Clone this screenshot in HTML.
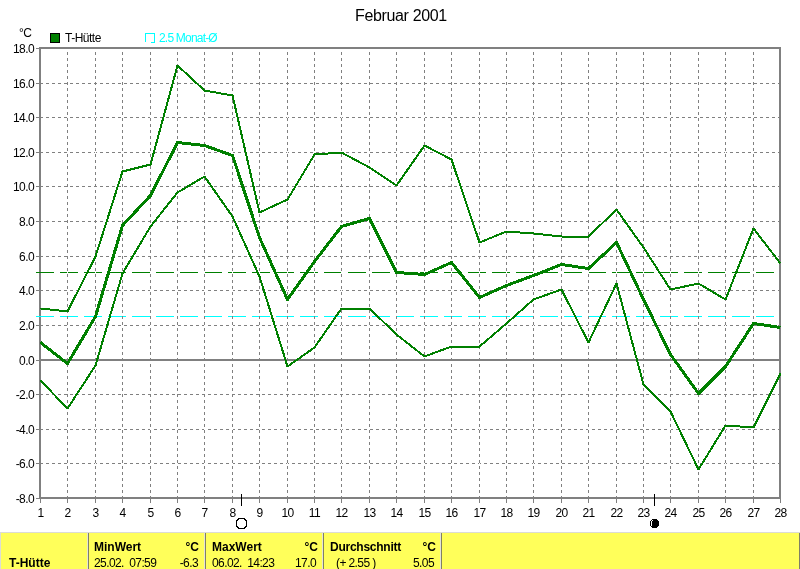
<!DOCTYPE html>
<html><head><meta charset="utf-8"><style>
html,body{margin:0;padding:0;background:#fff;width:800px;height:569px;overflow:hidden;position:relative;font-family:"Liberation Sans",sans-serif;color:#000}
.t{position:absolute;white-space:nowrap;will-change:transform}
.yl{will-change:transform;position:absolute;left:0;width:34px;letter-spacing:-0.6px;text-align:right;font-size:12px;line-height:16px;}
.xl{will-change:transform;position:absolute;top:505px;width:31px;letter-spacing:-0.6px;text-align:center;font-size:12px;line-height:16px;}
.tbl{position:absolute;left:0;top:532px;width:800px;height:37px;background:#FFFF5A;}
.b{font-weight:bold}
.t{font-size:12px;line-height:14px}
.r{width:100px;text-align:right}
.n{letter-spacing:-0.6px}
.dl{position:absolute;top:533px;width:1px;height:36px;background:#E4E4D8}
.dd{position:absolute;top:533px;width:1px;height:36px;background:#808064}
</style></head><body>
<svg width="800" height="569" viewBox="0 0 800 569" style="position:absolute;left:0;top:0" shape-rendering="crispEdges">
<defs><clipPath id="pc"><rect x="40" y="47" width="741" height="452"/></clipPath></defs>
<path d="M39 47h742v2H39zM39 497h742v2H39zM39 47h2v452h-2zM779 47h2v452h-2z" fill="#808080"/>
<path d="M36 48.5h4M36 83.5h4M36 117.5h4M36 152.5h4M36 186.5h4M36 221.5h4M36 256.5h4M36 290.5h4M36 325.5h4M36 360.5h4M36 394.5h4M36 429.5h4M36 463.5h4M36 498.5h4M40.5 499v4M67.5 499v4M95.5 499v4M122.5 499v4M150.5 499v4M177.5 499v4M204.5 499v4M232.5 499v4M259.5 499v4M287.5 499v4M314.5 499v4M341.5 499v4M369.5 499v4M396.5 499v4M424.5 499v4M451.5 499v4M479.5 499v4M506.5 499v4M533.5 499v4M561.5 499v4M588.5 499v4M616.5 499v4M643.5 499v4M670.5 499v4M698.5 499v4M725.5 499v4M753.5 499v4M780.5 499v4" stroke="#808080"/>
<path d="M40 83.5H779M40 117.5H779M40 152.5H779M40 186.5H779M40 221.5H779M40 256.5H779M40 290.5H779M40 325.5H779M40 394.5H779M40 429.5H779M40 463.5H779" stroke="#808080" stroke-dasharray="3 3"/>
<path d="M36 272.5H779" stroke="#008000" stroke-dasharray="18 6"/>
<path d="M36 316.5H779" stroke="#00FFFF" stroke-dasharray="18 6"/>
<path d="M67.5 49V497M95.5 49V497M122.5 49V497M150.5 49V497M177.5 49V497M204.5 49V497M232.5 49V497M259.5 49V497M287.5 49V497M314.5 49V497M341.5 49V497M369.5 49V497M396.5 49V497M424.5 49V497M451.5 49V497M479.5 49V497M506.5 49V497M533.5 49V497M561.5 49V497M588.5 49V497M616.5 49V497M643.5 49V497M670.5 49V497M698.5 49V497M725.5 49V497M753.5 49V497" stroke="#fff"/>
<path d="M67.5 52V497M95.5 52V497M122.5 52V497M150.5 52V497M177.5 52V497M204.5 52V497M232.5 52V497M259.5 52V497M287.5 52V497M314.5 52V497M341.5 52V497M369.5 52V497M396.5 52V497M424.5 52V497M451.5 52V497M479.5 52V497M506.5 52V497M533.5 52V497M561.5 52V497M588.5 52V497M616.5 52V497M643.5 52V497M670.5 52V497M698.5 52V497M725.5 52V497M753.5 52V497" stroke="#808080" stroke-dasharray="3 3"/>
<rect x="41" y="359" width="738" height="2" fill="#808080"/>
<g clip-path="url(#pc)"><polyline points="40.5,308.5 67.5,311.5 95.5,256.5 122.5,171.5 150.5,164.5 177.5,65.5 204.5,90.5 232.5,95.5 259.5,212.5 287.5,199.5 314.5,154.5 341.5,152.5 369.5,167.5 396.5,185.5 424.5,145.5 451.5,159.5 479.5,242.5 506.5,231.5 533.5,233.5 561.5,236.5 588.5,236.5 616.5,209.5 643.5,247.5 670.5,289.5 698.5,283.5 725.5,299.5 753.5,228.5 780.5,263.5" fill="none" stroke="#008000" stroke-width="2" stroke-linejoin="bevel" stroke-linecap="butt"/><polyline points="40.5,380.5 67.5,408.5 95.5,365.5 122.5,273.5 150.5,226.5 177.5,192.5 204.5,176.5 232.5,216.5 259.5,276.5 287.5,366.5 314.5,347.5 341.5,308.5 369.5,308.5 396.5,334.5 424.5,356.5 451.5,346.5 479.5,346.5 506.5,323.5 533.5,299.5 561.5,289.5 588.5,342.5 616.5,283.5 643.5,384.5 670.5,411.5 698.5,469.5 725.5,425.5 753.5,427.5 780.5,373.5" fill="none" stroke="#008000" stroke-width="2" stroke-linejoin="bevel" stroke-linecap="butt"/><polyline points="40.5,342.5 67.5,363.5 95.5,316.5 122.5,225.5 150.5,195.5 177.5,142.5 204.5,145.5 232.5,155.5 259.5,237.5 287.5,299.5 314.5,261.5 341.5,226.5 369.5,218.5 396.5,272.5 424.5,274.5 451.5,262.5 479.5,297.5 506.5,285.5 533.5,275.5 561.5,264.5 588.5,268.5 616.5,242.5 643.5,299.5 670.5,354.5 698.5,393.5 725.5,366.5 753.5,323.5 780.5,327.5" fill="none" stroke="#008000" stroke-width="3" stroke-linejoin="round" stroke-linecap="butt"/></g>
<path d="M241.5 494v12M654.5 494v12" stroke="#000"/>
<path d="M238 518h7v1h-7zM237 519h2v1h-2zM244 519h2v1h-2zM236 520h2v1h-2zM245 520h2v1h-2zM236 521h1v1h-1zM236 522h1v1h-1zM236 523h1v1h-1zM236 524h1v1h-1zM236 525h1v1h-1zM246 521h1v1h-1zM246 522h1v1h-1zM246 523h1v1h-1zM246 524h1v1h-1zM246 525h1v1h-1zM236 526h2v1h-2zM245 526h2v1h-2zM237 527h2v1h-2zM244 527h2v1h-2zM238 528h7v1h-7z" fill="#000"/>
<path d="M652 519h5v1h-5zM651 520h7v1h-7zM650 521h9v1h-9zM650 522h9v1h-9zM650 523h9v1h-9zM650 524h9v1h-9zM650 525h9v1h-9zM651 526h7v1h-7zM652 527h5v1h-5z" fill="#000"/>
<path d="M652 520h1v1h-1zM651 521h1v5h-1z" fill="#fff"/>
<rect x="50.5" y="33.5" width="9" height="9" fill="#008000" stroke="#000"/>
<path d="M145.5 42V33.5H154.5V42.5H151" fill="none" stroke="#00FFFF"/>
</svg>
<div class="t" style="left:355px;top:6px;font-size:16px;line-height:20px;letter-spacing:-0.35px">Februar 2001</div>
<div class="t" style="left:19px;top:26px;font-size:12px;line-height:14px;letter-spacing:-0.5px">°C</div>
<div class="t" style="left:65px;top:31px;font-size:12px;line-height:14px;letter-spacing:-0.5px">T-Hütte</div>
<div class="t" style="left:159px;top:31px;font-size:12px;line-height:14px;color:#00FFFF;letter-spacing:-0.8px">2.5 Monat-Ø</div>
<div class="yl" style="top:41px">18.0</div><div class="yl" style="top:76px">16.0</div><div class="yl" style="top:110px">14.0</div><div class="yl" style="top:145px">12.0</div><div class="yl" style="top:179px">10.0</div><div class="yl" style="top:214px">8.0</div><div class="yl" style="top:249px">6.0</div><div class="yl" style="top:283px">4.0</div><div class="yl" style="top:318px">2.0</div><div class="yl" style="top:353px">0.0</div><div class="yl" style="top:387px">-2.0</div><div class="yl" style="top:422px">-4.0</div><div class="yl" style="top:456px">-6.0</div><div class="yl" style="top:491px">-8.0</div><div class="xl" style="left:25px">1</div><div class="xl" style="left:52px">2</div><div class="xl" style="left:80px">3</div><div class="xl" style="left:107px">4</div><div class="xl" style="left:135px">5</div><div class="xl" style="left:162px">6</div><div class="xl" style="left:189px">7</div><div class="xl" style="left:217px">8</div><div class="xl" style="left:244px">9</div><div class="xl" style="left:272px">10</div><div class="xl" style="left:299px">11</div><div class="xl" style="left:326px">12</div><div class="xl" style="left:354px">13</div><div class="xl" style="left:381px">14</div><div class="xl" style="left:409px">15</div><div class="xl" style="left:436px">16</div><div class="xl" style="left:464px">17</div><div class="xl" style="left:491px">18</div><div class="xl" style="left:518px">19</div><div class="xl" style="left:546px">20</div><div class="xl" style="left:573px">21</div><div class="xl" style="left:601px">22</div><div class="xl" style="left:628px">23</div><div class="xl" style="left:655px">24</div><div class="xl" style="left:683px">25</div><div class="xl" style="left:710px">26</div><div class="xl" style="left:738px">27</div><div class="xl" style="left:765px">28</div>
<div class="tbl"></div>
<div style="position:absolute;left:0;top:532px;width:800px;height:1px;background:#DCDCD4"></div>
<div style="position:absolute;left:0;top:532px;width:1px;height:37px;background:#DCDCD4"></div>
<div style="position:absolute;left:799px;top:533px;width:1px;height:36px;background:#808064"></div>
<div class="dl" style="left:87px"></div><div class="dd" style="left:88px"></div>
<div class="dl" style="left:204px"></div><div class="dd" style="left:205px"></div>
<div class="dl" style="left:322px"></div><div class="dd" style="left:323px"></div>
<div class="dl" style="left:440px"></div><div class="dd" style="left:441px"></div>
<div class="t b" style="left:9px;top:556px">T-Hütte</div>
<div class="t b" style="left:94px;top:540px">MinWert</div>
<div class="t r b" style="left:99px;top:540px">°C</div>
<div class="t n" style="left:94px;top:556px">25.02.&nbsp;&nbsp;07:59</div>
<div class="t r n" style="left:98px;top:556px">-6.3</div>
<div class="t b" style="left:212px;top:540px">MaxWert</div>
<div class="t r b" style="left:218px;top:540px">°C</div>
<div class="t n" style="left:212px;top:556px">06.02.&nbsp;&nbsp;14:23</div>
<div class="t r n" style="left:216px;top:556px">17.0</div>
<div class="t b" style="left:330px;top:540px;letter-spacing:-0.25px">Durchschnitt</div>
<div class="t r b" style="left:336px;top:540px">°C</div>
<div class="t n" style="left:336px;top:556px">(+ 2.55 )</div>
<div class="t r n" style="left:334px;top:556px">5.05</div>
</body></html>
